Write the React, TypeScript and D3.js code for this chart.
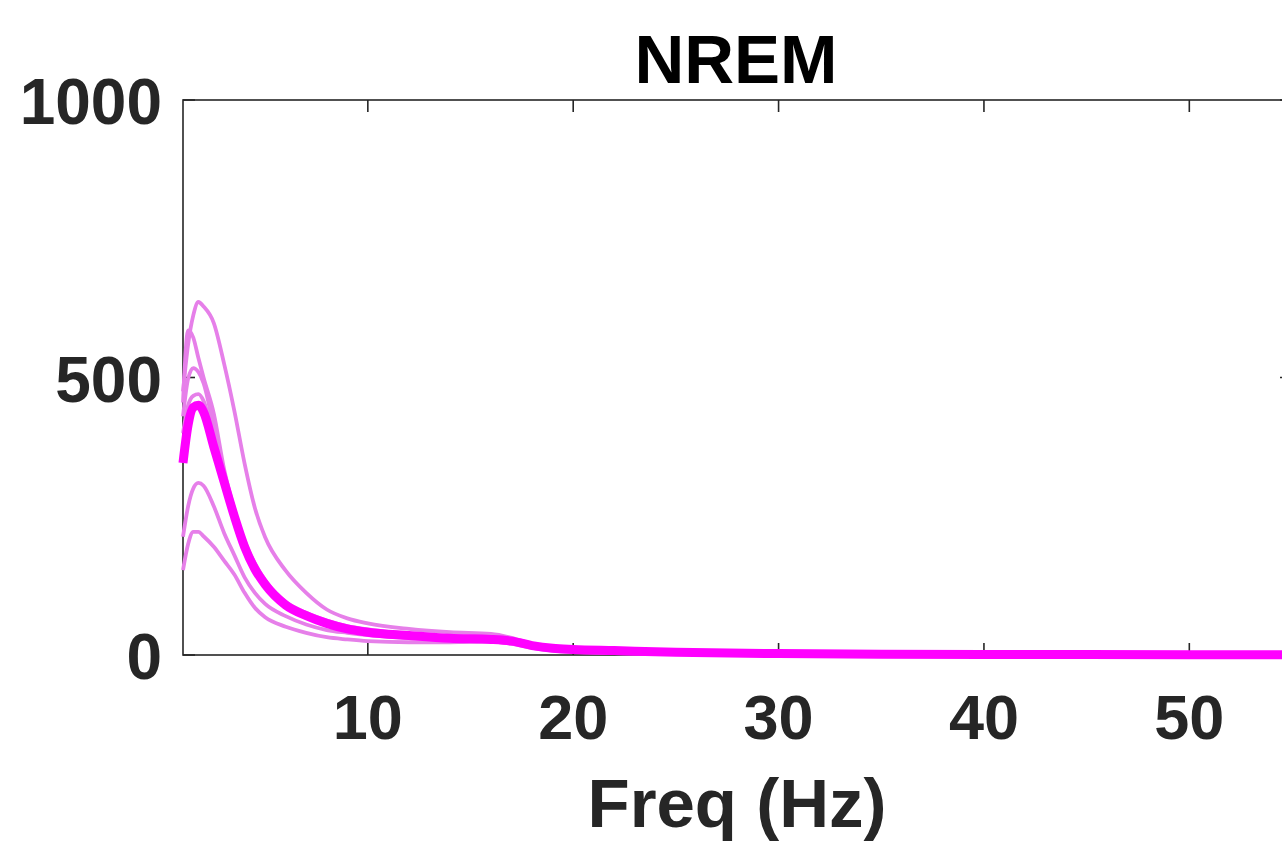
import React from "react";
import * as d3 from "d3";

const TITLE = "NREM";
const X_LABEL = "Freq (Hz)";
const X_TICKS = [10, 20, 30, 40, 50];
const Y_TICKS = [0, 500, 1000];
const X_DOMAIN: [number, number] = [1, 55];
const Y_DOMAIN: [number, number] = [0, 1000];

const freqs = [1, 1.25, 1.5, 1.75, 2, 2.5, 3, 3.5, 4, 4.5, 5, 6, 7, 8, 9, 10, 12, 14, 16, 17, 18, 19, 20, 22, 25, 30, 35, 40, 45, 50, 55];

const subjectA = [475, 560, 612, 636, 628, 598, 525, 440, 345, 265, 212, 152, 112, 82, 66, 57, 47, 41, 38, 31, 20, 13, 9, 6, 4, 2.5, 1.8, 1.3, 1, 0.8, 0.6];
const subjectB = [455, 585, 572, 535, 500, 435, 335, 262, 205, 165, 135, 96, 76, 62, 52, 46, 38, 33, 32, 28, 18, 12, 9, 6, 4, 2.2, 1.5, 1.1, 0.9, 0.7, 0.5];
const subjectC = [430, 498, 517, 510, 490, 410, 325, 255, 200, 160, 130, 92, 72, 58, 48, 43, 36, 32, 30, 26, 17, 11, 9, 6, 4, 2.2, 1.5, 1.1, 0.9, 0.7, 0.5];
const subjectD = [400, 450, 467, 470, 458, 390, 318, 252, 196, 157, 128, 90, 70, 56, 46, 40, 34, 30, 29, 25, 16, 11, 9, 6, 4, 2.2, 1.4, 1, 0.8, 0.6, 0.4];
const subjectE = [213, 268, 300, 310, 305, 268, 220, 180, 140, 112, 92, 70, 55, 45, 40, 36, 31, 29, 29, 24, 15, 10, 6.5, 4, 2.8, 1.7, 1.2, 0.9, 0.7, 0.5, 0.4];
const subjectF = [153, 200, 222, 222, 214, 195, 170, 145, 112, 85, 68, 51, 40, 32, 28, 25, 23, 23, 24, 20, 13, 8, 5.5, 3.5, 2.4, 1.5, 1.1, 0.8, 0.6, 0.5, 0.4];
const meanPower = [346, 415, 446, 450, 438, 375, 312, 250, 195, 155, 127, 90, 71, 57, 47, 41, 35, 30, 28, 25, 17, 12, 10, 8, 5, 2.5, 1.5, 1, 0.8, 0.6, 0.5];

const subjects = [subjectA, subjectB, subjectC, subjectD, subjectE, subjectF];

const W = 1282;
const H = 844;
const left = 183;
const right = 1292;
const top = 100;
const bottom = 655;
const AX = "#262626";
const FONT = "'Liberation Sans', Arial, Helvetica, sans-serif";

export default function App() {
  const x = d3.scaleLinear().domain(X_DOMAIN).range([left, right]);
  const y = d3.scaleLinear().domain(Y_DOMAIN).range([bottom, top]);
  const line = (vals: number[]) =>
    d3
      .line<number>()
      .x((_, i) => x(freqs[i]))
      .y((v) => y(v))
      .curve(d3.curveMonotoneX)(vals) || "";
  const tl = 12;
  return (
    <svg
      width={W}
      height={H}
      style={{ position: "absolute", left: 0, top: 0, background: "#fff" }}
      fontFamily={FONT}
    >
      <rect x={0} y={0} width={W} height={H} fill="#fff" />
      <rect x={left} y={top} width={right - left} height={bottom - top} fill="none" stroke={AX} strokeWidth={1.6} />
      {X_TICKS.map((t) => (
        <g key={"xt" + t}>
          <line x1={x(t)} x2={x(t)} y1={bottom} y2={bottom - tl} stroke={AX} strokeWidth={1.6} />
          <line x1={x(t)} x2={x(t)} y1={top} y2={top + tl} stroke={AX} strokeWidth={1.6} />
          <text x={x(t)} y={739} textAnchor="middle" fontSize={63} fontWeight="bold" fill={AX}>
            {t}
          </text>
        </g>
      ))}
      {Y_TICKS.map((t) => (
        <g key={"yt" + t}>
          <line x1={left} x2={left + tl} y1={y(t)} y2={y(t)} stroke={AX} strokeWidth={1.6} />
          <line x1={right} x2={right - tl} y1={y(t)} y2={y(t)} stroke={AX} strokeWidth={1.6} />
          <text x={162} y={y(t) + 24} textAnchor="end" fontSize={64} fontWeight="bold" fill={AX}>
            {t}
          </text>
        </g>
      ))}
      {subjects.map((s, i) => (
        <path key={"s" + i} d={line(s)} fill="none" stroke="#e67fe9" strokeWidth={3.8} strokeLinejoin="round" />
      ))}
      <path d={line(meanPower)} fill="none" stroke="#ff00ff" strokeWidth={9} strokeLinejoin="round" />
      <text x={736} y={83} textAnchor="middle" fontSize={69} fontWeight="bold" fill="#000">
        {TITLE}
      </text>
      <text x={737} y={827} textAnchor="middle" fontSize={69} fontWeight="bold" fill={AX}>
        {X_LABEL}
      </text>
    </svg>
  );
}
